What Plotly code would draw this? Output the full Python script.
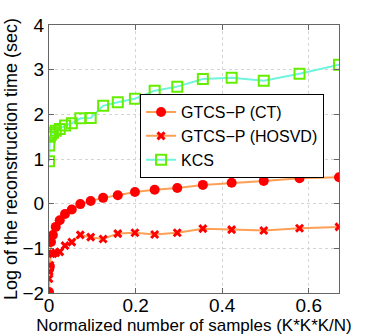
import plotly.graph_objects as go

# normalized number of samples (K*K*K/N)
samples = [0.00007, 0.00058, 0.00195, 0.0046, 0.0090, 0.0156, 0.0248, 0.0370,
           0.0527, 0.0723, 0.0963, 0.1250, 0.1589, 0.1985, 0.2441, 0.2963,
           0.3554, 0.4219, 0.4961, 0.5787, 0.6699]

# log of reconstruction time (sec)
gtcs_ct = [-1.98, -1.46, -1.40, -0.86, -0.70, -0.52, -0.37, -0.23, -0.13, -0.01, 0.06,
           0.13, 0.19, 0.26, 0.31, 0.35, 0.42, 0.47, 0.51, 0.57, 0.59]
gtcs_hosvd = [-1.68, -1.52, -1.38, -1.12, -1.12, -1.10, -1.08, -0.94, -0.86, -0.70, -0.75,
              -0.79, -0.67, -0.65, -0.69, -0.65, -0.56, -0.58, -0.60, -0.55, -0.52]
kcs = [0.95, 1.30, 1.50, 1.55, 1.59, 1.63, 1.67, 1.75, 1.80, 1.91, 1.92,
       2.19, 2.27, 2.35, 2.53, 2.62, 2.79, 2.82, 2.75, 2.91, 3.11]

FONT = "Liberation Sans, Arial, Helvetica, sans-serif"
ORANGE = "#ff9f55"

fig = go.Figure()
fig.add_trace(go.Scatter(
    x=samples, y=gtcs_ct, mode="lines+markers", name="GTCS\u2212P (CT)",
    line={"color": ORANGE, "width": 2},
    marker={"color": "#ff0000", "size": 10, "symbol": "circle"},
))
fig.add_trace(go.Scatter(
    x=samples, y=gtcs_hosvd, mode="lines+markers", name="GTCS\u2212P (HOSVD)",
    line={"color": ORANGE, "width": 2},
    marker={"color": "#ff0000", "size": 7, "symbol": "x-thin",
            "line": {"color": "#ff0000", "width": 3}},
))
fig.add_trace(go.Scatter(
    x=samples, y=kcs, mode="lines+markers", name="KCS",
    line={"color": "#70f5dc", "width": 2},
    marker={"color": "#66ee00", "size": 10, "symbol": "square-open",
            "line": {"color": "#66ee00", "width": 2}},
))

axis_common = dict(
    showline=True, linecolor="#666666", linewidth=1, mirror="ticks",
    ticks="inside", ticklen=5, tickcolor="#666666", automargin=False,
    showgrid=True, gridcolor="#d4d4d4", griddash="dot", gridwidth=1,
    zeroline=False, tickfont={"size": 19, "color": "#000000", "family": FONT},
)

fig.update_xaxes(
    range=[0, 0.6699], tickvals=[0, 0.2, 0.4, 0.6], ticktext=["0", "0.2", "0.4", "0.6"],
    ticklabelstandoff=-5,
    title={"text": "Normalized number of samples (K*K*K/N)", "standoff": 3,
           "font": {"size": 17, "family": FONT, "color": "#000000"}},
    **axis_common,
)
fig.update_yaxes(
    range=[-2, 4], tickvals=[-2, -1, 0, 1, 2, 3, 4],
    title={"text": "Log of the reconstruction time (sec)", "standoff": 0,
           "font": {"size": 18, "family": FONT, "color": "#000000"}},
    **axis_common,
)

fig.update_layout(
    width=374, height=336,
    margin={"l": 49, "r": 35, "t": 25, "b": 43},
    paper_bgcolor="white", plot_bgcolor="white",
    font={"family": FONT, "color": "#000000"},
    legend={
        "x": 0.314, "y": 0.742, "xanchor": "left", "yanchor": "top",
        "bgcolor": "white", "bordercolor": "#000000", "borderwidth": 1,
        "font": {"size": 16, "family": FONT}, "tracegroupgap": 0,
    },
)

# drop the page's default body margin so the figure sits at the window corner
fig.write_html("out.html", config={"displayModeBar": False},
               post_script="document.body.style.margin = '0';")
